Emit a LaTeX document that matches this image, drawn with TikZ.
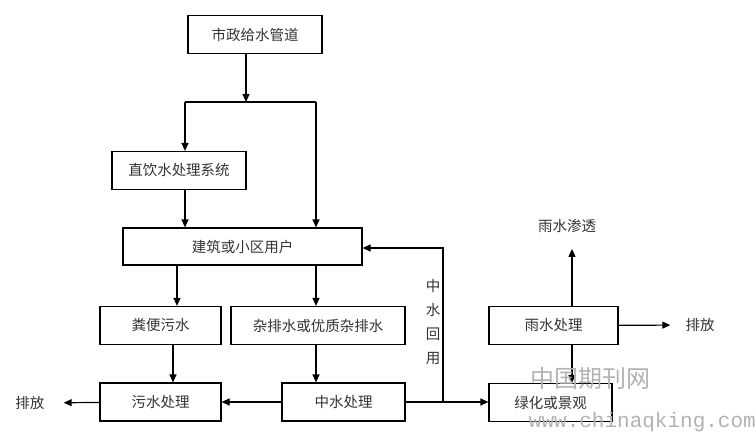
\documentclass[tikz,border=0pt]{standalone}
\usepackage{fontspec}
\newfontfamily\cjk{Noto Sans CJK SC}
\newfontfamily\wmfont{Liberation Mono}
\usepackage{tikz}
\usetikzlibrary{arrows.meta}

\begin{document}
\begin{tikzpicture}[x=1pt, y=-1pt,
  unit/.style={draw, line width=1.2pt, minimum height=38pt, inner sep=1pt,
               font=\cjk\fontsize{14.5}{16}\selectfont, text=black!80},
  lbl/.style={font=\cjk\fontsize{14.5}{16}\selectfont, text=black!80, inner sep=1pt},
  arr/.style={-{Triangle[length=8pt, width=7pt]}, line width=1.2pt},
  pipe/.style={line width=1.2pt},
  wm/.style={text=gray!60, inner sep=0pt},
]
\useasboundingbox (0,0) rectangle (756,436);

% --- supply side ---
\node[unit, minimum width=134pt] (supply) at (255,34.5) {市政给水管道};
\node[unit, minimum width=134pt] (direct) at (179,170.5) {直饮水处理系统};
\node[unit, minimum width=239pt, minimum height=37pt] (users) at (242.5,246.5) {建筑或小区用户};

\coordinate (split) at (246,102);
\coordinate (sl) at (185,102);
\coordinate (sr) at (316,102);
\draw[arr] (supply.south -| split) -- (split);
\draw[pipe] (sl) -- (sr);
\draw[arr] (sl) -- (sl |- direct.north);
\draw[arr] (sr) -- (sr |- users.north);
\draw[arr] (direct.south -| sl) -- (sl |- users.north);

% --- drainage side ---
\node[unit, minimum width=121pt] (faecal) at (160.5,325.5) {粪便污水};
\node[unit, minimum width=174pt] (grey) at (318,325.5) {杂排水或优质杂排水};
\node[unit, minimum width=121pt] (sewage) at (160.5,402) {污水处理};
\node[unit, minimum width=123pt] (reclaim) at (343.5,402) {中水处理};
\node[lbl] (outl) at (30,403) {排放};

\coordinate (dl) at (177,0);
\coordinate (dm) at (173,0);
\coordinate (dr) at (316,0);
\draw[arr] (users.south -| dl) -- (faecal.north -| dl);
\draw[arr] (users.south -| dr) -- (grey.north -| dr);
\draw[arr] (faecal.south -| dm) -- (sewage.north -| dm);
\draw[arr] (grey.south -| dr) -- (reclaim.north -| dr);
\draw[arr] (reclaim) -- (sewage);
\draw[arr, shorten >=18pt] (sewage) -- (outl);

% --- reuse and rain water ---
\node[unit, minimum width=123pt] (green) at (550.5,402.5) {绿化或景观};
\node[unit, minimum width=129pt] (rain) at (553.5,325.5) {雨水处理};
\node[lbl] (infil) at (567,226) {雨水渗透};
\node[lbl] (outr) at (700,325) {排放};
\node[lbl, align=center, font=\cjk\fontsize{14.5}{24}\selectfont] (reuse) at (433,322) {中\\水\\回\\用};

\coordinate (tee) at (443,402);
\coordinate (bend) at (443,248);
\coordinate (rx) at (572,0);
\draw[arr] (reclaim) -- (green.west |- reclaim);
\draw[arr] (tee) -- (bend) -- (bend -| users.east);
\draw[arr, shorten >=15pt] (rain.north -| rx) -- (rx |- infil.south);
\draw[arr] (rain.south -| rx) -- (green.north -| rx);
\draw[arr, shorten >=14pt] (rain) -- (outr);

% --- watermark ---
\node[wm, font=\cjk\fontsize{24}{26}\selectfont] (wm1) at (590,378) {中国期刊网};
\node[wm, font=\wmfont\fontsize{21}{23}\selectfont, anchor=east] (wm2) at (756,422) {www.chinaqking.com};
\end{tikzpicture}
\end{document}
